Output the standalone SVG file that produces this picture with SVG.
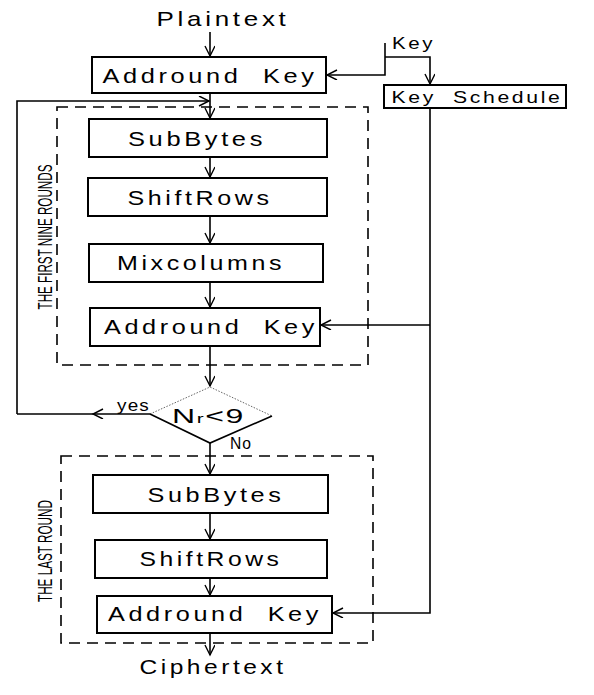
<svg xmlns="http://www.w3.org/2000/svg" width="594" height="695" viewBox="0 0 594 695">
<style>
.box{fill:#fff;stroke:#000;stroke-width:2}
.dash{fill:none;stroke:#000;stroke-width:1.6;stroke-dasharray:11,7}
.t{font-family:"Liberation Sans",Arial,sans-serif;font-size:21px;fill:#000;white-space:pre;letter-spacing:3px}
.s{font-family:"Liberation Sans",Arial,sans-serif;font-size:16px;fill:#000;white-space:pre;letter-spacing:2px}
.c{font-family:"Liberation Sans",Arial,sans-serif;font-size:21px;fill:#000}
.ln{fill:none;stroke:#000;stroke-width:1.6}
</style>
<defs>
<marker id="a" markerUnits="userSpaceOnUse" markerWidth="14" markerHeight="12" refX="11" refY="5" orient="auto">
<path d="M1,0 L11,5 L1,10" fill="none" stroke="#000" stroke-width="1.4"/>
</marker>
</defs>
<g id="regions">
<rect class="dash" x="57" y="107" width="311" height="258"/>
<rect class="dash" x="61" y="456" width="312" height="187"/>
<text class="c" transform="translate(52,237) rotate(-90)" text-anchor="middle" textLength="145" lengthAdjust="spacingAndGlyphs">THE FIRST NINE ROUNDS</text>
<text class="c" transform="translate(52,551) rotate(-90)" text-anchor="middle" textLength="102" lengthAdjust="spacingAndGlyphs">THE LAST ROUND</text>
</g>
<g id="connectors">
<path class="ln" d="M210,32 L210,56" marker-end="url(#a)"/>
<path class="ln" d="M385,43 L385,75 L327,75" marker-end="url(#a)"/>
<path class="ln" d="M385,57 L430,57 L430,84" marker-end="url(#a)"/>
<path class="ln" d="M430,108 L430,613 L333,613" marker-end="url(#a)"/>
<path class="ln" d="M430,325 L321,325" marker-end="url(#a)"/>
<path class="ln" d="M210,93 L210,118" marker-end="url(#a)"/>
<path class="ln" d="M17,414 L17,101 L209,101" marker-end="url(#a)"/>
<path class="ln" d="M150,414 L93,414" marker-end="url(#a)"/>
<path class="ln" d="M93,414 L17,414"/>
<path class="ln" d="M210,157 L210,177" marker-end="url(#a)"/>
<path class="ln" d="M210,216 L210,243" marker-end="url(#a)"/>
<path class="ln" d="M210,282 L210,307" marker-end="url(#a)"/>
<path class="ln" d="M210,346 L210,386" marker-end="url(#a)"/>
<path class="ln" d="M210,443 L210,474" marker-end="url(#a)"/>
<path class="ln" d="M210,513 L210,539" marker-end="url(#a)"/>
<path class="ln" d="M210,578 L210,595" marker-end="url(#a)"/>
<path class="ln" d="M210,633 L210,655" marker-end="url(#a)"/>
<text class="s" x="117" y="411" font-size="13" style="letter-spacing:1px" textLength="33" lengthAdjust="spacingAndGlyphs">yes</text>
<text class="s" x="230" y="449" font-size="13" style="letter-spacing:1px" textLength="22" lengthAdjust="spacingAndGlyphs">No</text>
<text class="s" x="392" y="49" textLength="43" lengthAdjust="spacingAndGlyphs">Key</text>
</g>
<g id="plaintext"><text class="t" x="223" y="26" text-anchor="middle" textLength="133" lengthAdjust="spacingAndGlyphs">Plaintext</text></g>
<g id="addroundkey0"><rect class="box" x="92" y="57" width="234" height="36"/>
<text class="t" x="210" y="83" text-anchor="middle" textLength="215" lengthAdjust="spacingAndGlyphs">Addround  Key</text></g>
<g id="keyschedule"><rect class="box" x="384" y="85" width="182" height="23" stroke-width="1.4"/>
<text class="s" x="477" y="103" text-anchor="middle" textLength="171" lengthAdjust="spacingAndGlyphs">Key  Schedule</text></g>
<g id="subbytes1"><rect class="box" x="89" y="119" width="238" height="38"/>
<text class="t" x="197" y="146" text-anchor="middle" textLength="138" lengthAdjust="spacingAndGlyphs">SubBytes</text></g>
<g id="shiftrows1"><rect class="box" x="88" y="178" width="239" height="38"/>
<text class="t" x="200" y="205" text-anchor="middle" textLength="145" lengthAdjust="spacingAndGlyphs">ShiftRows</text></g>
<g id="mixcolumns"><rect class="box" x="89" y="244" width="234" height="38"/>
<text class="t" x="201" y="270" text-anchor="middle" textLength="168" lengthAdjust="spacingAndGlyphs">Mixcolumns</text></g>
<g id="addroundkey1"><rect class="box" x="90" y="308" width="230" height="38"/>
<text class="t" x="211" y="334" text-anchor="middle" textLength="214" lengthAdjust="spacingAndGlyphs">Addround  Key</text></g>
<g id="decision">
<path d="M150,414 L210,387 L272,416" fill="none" stroke="#666" stroke-width="1" stroke-dasharray="1.5,1.5"/>
<path d="M150,414 L210,443 L272,416" fill="none" stroke="#000" stroke-width="1.6"/>
<text x="172" y="423" font-family="Liberation Sans, Arial, sans-serif" font-size="20" style="letter-spacing:1px" textLength="73" lengthAdjust="spacingAndGlyphs">N<tspan font-size="13">r</tspan>&lt;9</text>
</g>
<g id="subbytes2"><rect class="box" x="93" y="475" width="235" height="38"/>
<text class="t" x="216" y="502" text-anchor="middle" textLength="137" lengthAdjust="spacingAndGlyphs">SubBytes</text></g>
<g id="shiftrows2"><rect class="box" x="95" y="540" width="232" height="38"/>
<text class="t" x="211" y="566" text-anchor="middle" textLength="143" lengthAdjust="spacingAndGlyphs">ShiftRows</text></g>
<g id="addroundkey2"><rect class="box" x="97" y="596" width="235" height="37"/>
<text class="t" x="215" y="621" text-anchor="middle" textLength="214" lengthAdjust="spacingAndGlyphs">Addround  Key</text></g>
<g id="ciphertext"><text class="t" x="213" y="674" text-anchor="middle" textLength="147" lengthAdjust="spacingAndGlyphs">Ciphertext</text></g>
</svg>
